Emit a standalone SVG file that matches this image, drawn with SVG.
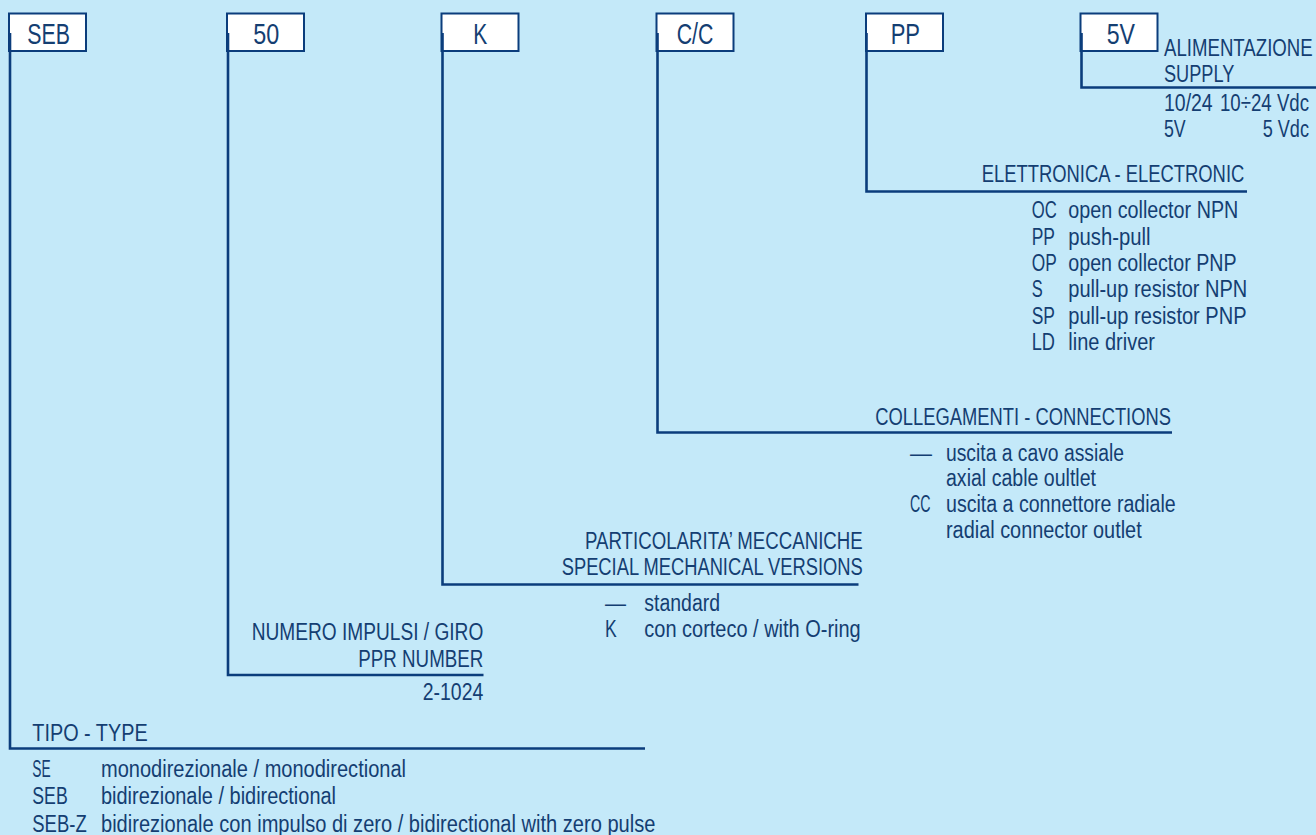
<svg xmlns="http://www.w3.org/2000/svg" width="1316" height="835" viewBox="0 0 1316 835">
<style>
.bg{fill:#C4E9F9}
.box{fill:#FFFFFF;stroke:#0B3D7C;stroke-width:2}
.ln{fill:none;stroke:#0B3D7C;stroke-width:2.6}
text{font-family:"Liberation Sans",Arial,Helvetica,sans-serif;fill:#143E72}
.t{font-size:23px}
.b{font-size:29px}
</style>
<rect class="bg" x="0" y="0" width="1316" height="835"/>

<g id="node-seb">
<rect class="box" x="9" y="13.5" width="77" height="37.5"/>
<text class="b" x="27.3" y="44" textLength="42.7" lengthAdjust="spacingAndGlyphs">SEB</text>
<text class="t" x="32.3" y="741" textLength="115.4" lengthAdjust="spacingAndGlyphs">TIPO  -  TYPE</text>
<text class="t" x="32.3" y="776.7" textLength="18.4" lengthAdjust="spacingAndGlyphs">SE</text>
<text class="t" x="101" y="776.7" textLength="305" lengthAdjust="spacingAndGlyphs">monodirezionale / monodirectional</text>
<text class="t" x="32.3" y="804.3" textLength="35.4" lengthAdjust="spacingAndGlyphs">SEB</text>
<text class="t" x="101" y="804.3" textLength="235" lengthAdjust="spacingAndGlyphs">bidirezionale / bidirectional</text>
<text class="t" x="32.3" y="832" textLength="54.4" lengthAdjust="spacingAndGlyphs">SEB-Z</text>
<text class="t" x="101" y="832" textLength="554.4" lengthAdjust="spacingAndGlyphs">bidirezionale con impulso di zero / bidirectional with zero pulse</text>
</g>

<g id="node-50">
<rect class="box" x="227" y="13.5" width="77" height="37.5"/>
<text class="b" x="253.3" y="44" textLength="26" lengthAdjust="spacingAndGlyphs">50</text>
<text class="t" x="251.7" y="640" textLength="231.6" lengthAdjust="spacingAndGlyphs">NUMERO IMPULSI / GIRO</text>
<text class="t" x="358.3" y="666.7" textLength="125" lengthAdjust="spacingAndGlyphs">PPR NUMBER</text>
<text class="t" x="422.7" y="700" textLength="60.6" lengthAdjust="spacingAndGlyphs">2-1024</text>
</g>

<g id="node-k">
<rect class="box" x="441.5" y="13.5" width="77" height="37.5"/>
<text class="b" x="473.3" y="44" textLength="14" lengthAdjust="spacingAndGlyphs">K</text>
<text class="t" x="585" y="549.3" textLength="277.7" lengthAdjust="spacingAndGlyphs">PARTICOLARITA’ MECCANICHE</text>
<text class="t" x="561.7" y="574.7" textLength="301" lengthAdjust="spacingAndGlyphs">SPECIAL MECHANICAL VERSIONS</text>
<text class="t" x="605" y="611" textLength="21" lengthAdjust="spacingAndGlyphs">—</text>
<text class="t" x="644.3" y="611" textLength="75.7" lengthAdjust="spacingAndGlyphs">standard</text>
<text class="t" x="605" y="636.7" textLength="11.7" lengthAdjust="spacingAndGlyphs">K</text>
<text class="t" x="644.3" y="636.7" textLength="216.4" lengthAdjust="spacingAndGlyphs">con corteco / with O-ring</text>
</g>

<g id="node-cc">
<rect class="box" x="656.5" y="13.5" width="77" height="37.5"/>
<text class="b" x="676.7" y="44" textLength="36.7" lengthAdjust="spacingAndGlyphs">C/C</text>
<text class="t" x="875.3" y="425" textLength="295.7" lengthAdjust="spacingAndGlyphs">COLLEGAMENTI - CONNECTIONS</text>
<text class="t" x="910" y="460.7" textLength="22" lengthAdjust="spacingAndGlyphs">—</text>
<text class="t" x="946" y="460.7" textLength="178" lengthAdjust="spacingAndGlyphs">uscita a cavo assiale</text>
<text class="t" x="946" y="486" textLength="150" lengthAdjust="spacingAndGlyphs">axial cable oultlet</text>
<text class="t" x="910" y="512.3" textLength="20.5" lengthAdjust="spacingAndGlyphs">CC</text>
<text class="t" x="946" y="512.3" textLength="229.7" lengthAdjust="spacingAndGlyphs">uscita a connettore radiale</text>
<text class="t" x="946" y="537.7" textLength="195.7" lengthAdjust="spacingAndGlyphs">radial connector outlet</text>
</g>

<g id="node-pp">
<rect class="box" x="866" y="13.5" width="77" height="37.5"/>
<text class="b" x="890.7" y="44" textLength="29.3" lengthAdjust="spacingAndGlyphs">PP</text>
<text class="t" x="981.7" y="182.3" textLength="262.6" lengthAdjust="spacingAndGlyphs">ELETTRONICA - ELECTRONIC</text>
<text class="t" x="1031.7" y="218.3" textLength="25" lengthAdjust="spacingAndGlyphs">OC</text>
<text class="t" x="1068.3" y="218.3" textLength="170" lengthAdjust="spacingAndGlyphs">open collector NPN</text>
<text class="t" x="1031.7" y="244.7" textLength="23.3" lengthAdjust="spacingAndGlyphs">PP</text>
<text class="t" x="1068.3" y="244.7" textLength="82.3" lengthAdjust="spacingAndGlyphs">push-pull</text>
<text class="t" x="1031.7" y="271" textLength="25" lengthAdjust="spacingAndGlyphs">OP</text>
<text class="t" x="1068.3" y="271" textLength="168.3" lengthAdjust="spacingAndGlyphs">open collector PNP</text>
<text class="t" x="1031.7" y="297.3" textLength="11" lengthAdjust="spacingAndGlyphs">S</text>
<text class="t" x="1068.3" y="297.3" textLength="179" lengthAdjust="spacingAndGlyphs">pull-up resistor NPN</text>
<text class="t" x="1031.7" y="323.7" textLength="23.3" lengthAdjust="spacingAndGlyphs">SP</text>
<text class="t" x="1068.3" y="323.7" textLength="178.3" lengthAdjust="spacingAndGlyphs">pull-up resistor PNP</text>
<text class="t" x="1031.7" y="350" textLength="23.3" lengthAdjust="spacingAndGlyphs">LD</text>
<text class="t" x="1068.3" y="350" textLength="86.7" lengthAdjust="spacingAndGlyphs">line driver</text>
</g>

<g id="node-5v">
<rect class="box" x="1080.5" y="13.5" width="77" height="37.5"/>
<text class="b" x="1106.7" y="44" textLength="28.3" lengthAdjust="spacingAndGlyphs">5V</text>
<text class="t" x="1164" y="56" textLength="148.7" lengthAdjust="spacingAndGlyphs">ALIMENTAZIONE</text>
<text class="t" x="1164" y="81.5" textLength="70.3" lengthAdjust="spacingAndGlyphs">SUPPLY</text>
<text class="t" x="1164" y="110.7" textLength="48.7" lengthAdjust="spacingAndGlyphs">10/24</text>
<text class="t" x="1220" y="110.7" textLength="89" lengthAdjust="spacingAndGlyphs">10÷24 Vdc</text>
<text class="t" x="1164" y="136.7" textLength="21.7" lengthAdjust="spacingAndGlyphs">5V</text>
<text class="t" x="1262.7" y="136.7" textLength="46.3" lengthAdjust="spacingAndGlyphs">5 Vdc</text>
</g>

<g id="connectors">
<path class="ln" d="M10,33 V748.5 H645"/>
<path class="ln" d="M228,33 V675 H483.5"/>
<path class="ln" d="M442.5,33 V584.5 H858.5"/>
<path class="ln" d="M657.5,33 V432.5 H1172"/>
<path class="ln" d="M866.5,33 V191.5 H1247"/>
<path class="ln" d="M1081.5,33 V87.5 H1316"/>
</g>
</svg>
